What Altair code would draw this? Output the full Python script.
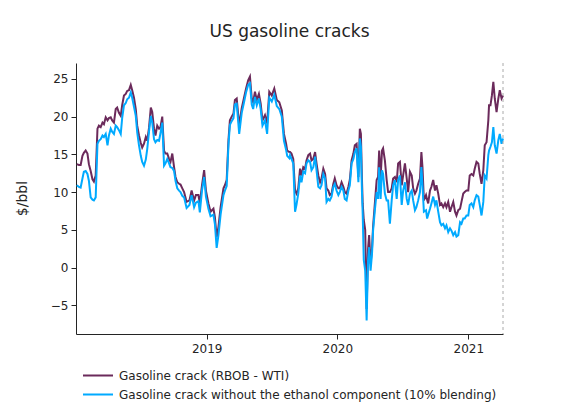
import altair as alt
import pandas as pd

# ---- data ----
START = "2018-01-01"
# days elapsed since START for each observation
DAYS = [
    2, 8, 13, 18, 22, 27, 32, 36, 41, 46, 50, 55, 60, 64, 69, 74, 78, 83, 88, 92,
    97, 101, 106, 111, 115, 120, 125, 129, 134, 139, 143, 148, 153, 157, 162, 167, 171, 176, 181, 185,
    190, 195, 199, 204, 209, 213, 218, 222, 227, 232, 236, 241, 246, 250, 255, 260, 264, 269, 274, 278,
    283, 288, 292, 297,
    302, 309, 317, 323, 330, 335, 342, 346, 352, 358, 363, 370, 376, 384, 388, 393, 398, 404, 412, 416,
    421, 426, 430, 435, 440, 444, 449, 456, 463, 469, 475, 481, 486, 491, 495, 500, 505, 511, 516, 521,
    528, 534, 540, 547, 554, 561, 568, 575, 581, 587, 590, 596,
    598, 602, 607, 612, 616, 621, 626, 630, 635, 640, 644, 649, 654, 658, 663, 668, 672, 677, 682, 686,
    691, 696, 700, 705, 709, 714, 719, 723, 728, 733, 737, 742, 747, 751, 756, 761, 765, 770, 775, 779,
    784, 789, 793, 796, 799, 801, 804, 808, 812, 816, 819, 823, 827, 830, 835, 840, 844, 847, 851, 855,
    858, 863, 868, 872, 877, 882, 886, 891, 896, 900, 905,
    910, 914, 919, 924, 928, 933, 938, 942, 947, 951, 956, 961, 965, 968, 972, 978, 981, 984, 989, 993,
    998, 1003, 1007, 1012, 1017, 1021, 1026, 1031, 1035, 1040, 1045, 1049, 1054, 1059, 1063, 1068, 1073, 1077, 1082, 1086,
    1091, 1096, 1100, 1105, 1110, 1114, 1119, 1124, 1128, 1133, 1138, 1142, 1147, 1152, 1154, 1158, 1162, 1166, 1170, 1175,
    1180, 1184, 1189, 1193,
]
RBOB_WTI = [
    13.7, 13.6, 13.6, 14.8, 15.2, 15.5, 15.1, 13.7, 12.8, 11.7, 11.4, 12.2, 18.4, 18.8, 18.6, 19.2, 19.0, 19.9, 19.5, 19.8,
    19.9, 19.5, 19.2, 21.0, 21.2, 20.5, 20.1, 21.5, 22.8, 23.0, 23.4, 23.5, 24.2, 23.5, 22.5, 21.0, 18.8, 17.5, 16.5, 15.9,
    16.4, 17.3, 16.8, 18.5, 21.2, 20.6, 18.4, 17.5, 18.8, 18.4, 18.6, 20.0, 15.5, 15.1, 15.1, 14.4, 14.0, 15.1, 13.3, 12.0,
    11.3, 11.1, 11.0, 10.5,
    10.0, 8.7, 8.9, 10.2, 8.9, 9.6, 9.6, 8.5, 10.9, 12.9, 10.2, 8.5, 7.4, 7.8, 6.7, 4.0, 5.4, 8.0, 10.5, 10.9,
    11.6, 16.9, 19.5, 20.0, 20.4, 22.2, 22.4, 18.8, 21.1, 22.4, 23.7, 24.8, 25.3, 22.4, 21.9, 23.3, 22.2, 23.0, 21.7, 19.5,
    20.2, 19.1, 23.3, 22.8, 23.7, 22.2, 21.9, 20.8, 17.7, 16.4, 15.5, 15.3,
    15.3, 15.1, 14.4, 10.2, 9.8, 10.5, 13.1, 12.2, 13.3, 13.1, 14.2, 14.9, 15.1, 14.2, 14.4, 15.3, 13.8, 12.2, 11.3, 11.8,
    13.1, 12.4, 10.5, 10.2, 9.6, 9.8, 11.1, 11.8, 10.9, 10.5, 10.5, 11.3, 10.7, 10.0, 9.8, 10.7, 11.6, 14.2, 15.1, 16.2,
    16.4, 12.0, 18.4, 17.7, 11.6, 8.5, 6.3, 5.0, -5.5, 2.5, 4.3, 0.5, 2.5, 5.4, 8.5, 11.6, 12.0, 15.5, 11.8, 15.5,
    15.8, 14.2, 11.6, 10.0, 10.0, 10.5, 11.8, 12.0, 11.3, 13.8, 14.0,
    10.9, 12.2, 13.8, 11.8, 10.0, 12.7, 12.2, 10.5, 9.8, 10.2, 11.1, 11.8, 15.3, 13.3, 8.9, 9.6, 9.0, 8.5, 10.2, 10.7,
    11.6, 10.2, 10.9, 9.8, 8.3, 8.5, 8.0, 8.5, 8.0, 8.7, 7.4, 8.0, 8.7, 7.4, 6.9, 7.6, 7.8, 8.7, 9.8, 10.0,
    10.2, 10.2, 12.2, 12.4, 12.2, 13.1, 14.0, 13.8, 12.4, 11.1, 12.9, 16.2, 16.6, 19.5, 21.5, 21.5, 22.8, 24.6, 22.4, 20.6,
    22.4, 23.5, 22.4, 22.8,
]
NO_ETHANOL = [
    10.9, 10.7, 10.6, 11.8, 12.7, 12.8, 12.4, 11.5, 9.3, 9.0, 8.9, 9.3, 16.4, 16.8, 17.0, 17.5, 17.3, 17.7, 16.2, 17.5,
    18.4, 18.0, 17.7, 18.8, 18.6, 18.2, 17.7, 19.8, 21.5, 21.8, 22.3, 22.5, 23.2, 22.5, 21.3, 20.1, 17.9, 16.2, 14.8, 14.0,
    13.5, 14.3, 15.7, 18.0, 20.1, 19.2, 17.0, 16.6, 16.9, 16.8, 17.8, 19.2, 13.5, 13.8, 14.4, 13.8, 13.3, 13.2, 12.8, 11.5,
    10.5, 10.2, 10.0, 9.5,
    9.3, 7.9, 8.3, 9.6, 8.0, 8.6, 8.8, 7.3, 10.2, 12.0, 9.4, 7.8, 6.8, 7.0, 5.8, 2.6, 4.3, 7.0, 9.6, 10.2,
    10.8, 16.3, 18.9, 19.4, 19.8, 21.6, 21.7, 17.7, 20.5, 21.8, 23.2, 24.2, 24.4, 21.6, 21.0, 22.6, 21.5, 22.4, 21.0, 18.8,
    19.5, 17.7, 22.5, 22.0, 22.9, 21.4, 21.0, 20.0, 16.8, 15.6, 14.8, 14.5,
    14.9, 14.4, 13.8, 7.4, 8.3, 9.8, 12.2, 11.3, 12.7, 12.5, 13.8, 14.2, 14.0, 12.9, 13.3, 14.7, 12.9, 10.7, 10.5, 10.9,
    12.4, 11.8, 8.7, 9.1, 8.9, 9.4, 10.7, 11.1, 10.2, 9.6, 10.0, 10.7, 10.2, 9.1, 8.9, 10.2, 10.9, 13.8, 14.4, 15.3,
    15.8, 11.3, 17.1, 16.0, 10.0, 7.1, 1.0, -0.4, -7.0, 1.0, 2.7, -0.4, 1.8, 4.9, 7.6, 10.0, 9.1, 13.3, 9.1, 12.9,
    12.4, 9.8, 8.9, 8.9, 5.8, 8.9, 10.9, 11.6, 9.1, 11.6, 12.2,
    8.3, 10.2, 11.3, 9.1, 8.3, 9.8, 10.2, 8.9, 7.6, 8.0, 8.9, 10.0, 13.3, 10.9, 7.4, 7.6, 6.5, 7.0, 7.8, 8.5,
    9.4, 8.3, 8.9, 7.4, 6.0, 5.6, 5.8, 5.2, 5.6, 4.7, 5.2, 4.9, 4.3, 4.7, 4.1, 4.3, 6.0, 5.8, 6.5, 6.5,
    6.9, 6.9, 8.3, 8.5, 8.0, 8.9, 9.6, 9.4, 8.3, 6.9, 8.7, 12.2, 11.8, 14.9, 15.5, 16.0, 16.6, 18.6, 16.2, 15.1,
    16.9, 17.7, 16.4, 17.1,
]
SERIES = [
    "Gasoline crack (RBOB - WTI)",
    "Gasoline crack without the ethanol component (10% blending)",
]
COLORS = ["#6b2a5b", "#00aaff"]
Y_TICKS = [-5, 0, 5, 10, 15, 20, 25]
Y_DOMAIN = [-8.8, 27.1]
X_TICK_YEARS = [2019, 2020, 2021]
END = dict(year=2021, month=4, date=8)

FONT = "DejaVu Sans"
INK = "#242424"

dates = pd.Timestamp(START) + pd.to_timedelta(DAYS, unit="D")
df_a = pd.DataFrame({"date": dates, "value": RBOB_WTI, "series": SERIES[0]})
df_b = pd.DataFrame({"date": dates, "value": NO_ETHANOL, "series": SERIES[1]})
df_end = pd.DataFrame({"date": [pd.Timestamp(year=END["year"], month=END["month"], day=END["date"])]})

x_enc = alt.X(
    "date:T",
    title=None,
    scale=alt.Scale(domain=[alt.DateTime(year=2018, month=1, date=1), alt.DateTime(**END)]),
    axis=alt.Axis(
        values=[alt.DateTime(year=y, month=1, date=1) for y in X_TICK_YEARS],
        format="%Y", grid=False, domainColor=INK, tickColor=INK, tickSize=5,
        labelColor=INK, labelFontSize=12, labelFont=FONT, labelPadding=4,
    ),
)
y_enc = alt.Y(
    "value:Q",
    title="$/bbl",
    scale=alt.Scale(domain=Y_DOMAIN, nice=False, zero=False),
    axis=alt.Axis(
        values=Y_TICKS, grid=False, domainColor=INK, tickColor=INK, tickSize=5,
        labelColor=INK, labelFontSize=12, labelFont=FONT, labelPadding=3,
        titleColor=INK, titleFontSize=14, titleFont=FONT, titleFontWeight="normal",
        titleAngle=-90, titleX=-54, titleY=135, titleAlign="center", titleBaseline="middle",
    ),
)
color_enc = alt.Color(
    "series:N",
    scale=alt.Scale(domain=SERIES, range=COLORS),
    legend=alt.Legend(
        title=None, orient="none", legendX=6, legendY=303, direction="vertical",
        symbolType="stroke", symbolSize=900, symbolStrokeWidth=2, clipHeight=19,
        labelFontSize=12, labelFont=FONT, labelColor=INK, labelOffset=5,
        labelLimit=0, padding=0, rowPadding=0,
    ),
)

line_a = alt.Chart(df_a).mark_line(strokeWidth=2).encode(x=x_enc, y=y_enc, color=color_enc)
line_b = alt.Chart(df_b).mark_line(strokeWidth=2).encode(x=x_enc, y=y_enc, color=color_enc)
end_rule = alt.Chart(df_end).mark_rule(color="#aaaaaa", strokeDash=[3, 3], strokeWidth=1).encode(x="date:T")

chart = alt.layer(line_a, line_b, end_rule).properties(
    width=427, height=271,
    title=alt.Title("US gasoline cracks", fontSize=17, font=FONT, fontWeight="normal",
                    color=INK, anchor="middle", offset=22),
    autosize=alt.AutoSizeParams(type="none"),
    padding={"left": 68, "top": 55, "right": 62, "bottom": 73},
).configure_view(stroke=None)

chart.save("out.html", embed_options={"renderer": "svg", "actions": False})
